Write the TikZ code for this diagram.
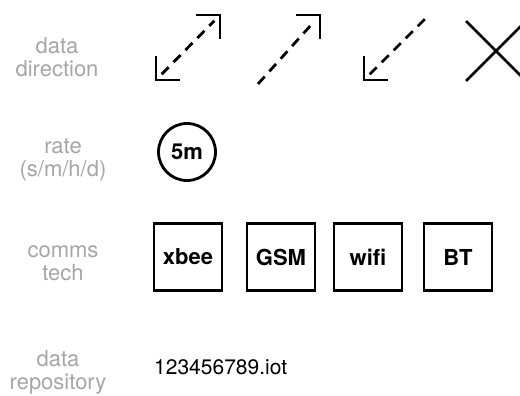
\documentclass[tikz,border=0pt]{standalone}
\usepackage{fontspec}
\setmainfont{TeX Gyre Heros}
\begin{document}
\begin{tikzpicture}[x=1pt, y=-1pt, font=\fontsize{22}{23}\selectfont,
	lbl/.style={text=black!35, align=center},
	dashln/.style={line width=2.8pt, dash pattern=on 10pt off 7pt, shorten <=8pt, shorten >=8pt},
	head/.style={line width=2.8pt, line join=miter},
	tech/.style={draw, line width=2.6pt, minimum width=68pt, minimum height=67pt, font=\fontsize{22}{23}\selectfont\bfseries}]
	\clip (0,0) rectangle (520,396);
	%labels
	\node[lbl] (dirlbl) at (57,57) {data\\direction};
	\node[lbl] (ratelbl) at (63,160) {rate\\(s/m/h/d)};
	\node[lbl] (techlbl) at (63,263) {comms\\tech};
	\node[lbl] (repolbl) at (58,372) {data\\repository};
	%data direction
	\coordinate (both ll) at (156,80);
	\coordinate (both ur) at (220,15);
	\draw[dashln] (both ll) -- (both ur);
	\draw[head] (both ll) ++(0,-24) -- (both ll) -- ++(24,0);
	\draw[head] (both ur) ++(-24,0) -- (both ur) -- ++(0,24);
	\coordinate (out ll) at (258,84);
	\coordinate (out ur) at (320,15);
	\draw[dashln, shorten <=0pt] (out ll) -- (out ur);
	\draw[head] (out ur) ++(-24,0) -- (out ur) -- ++(0,24);
	\coordinate (in ll) at (364,80);
	\coordinate (in ur) at (426,18);
	\draw[dashln, shorten >=0pt] (in ll) -- (in ur);
	\draw[head] (in ll) ++(0,-24) -- (in ll) -- ++(24,0);
	\coordinate (none a) at (466,21);
	\coordinate (none b) at (526,81);
	\coordinate (none c) at (466,81);
	\coordinate (none d) at (526,21);
	\draw[line width=2.8pt] (none a) -- (none b);
	\draw[line width=2.8pt] (none c) -- (none d);
	%rate
	\node[draw, circle, line width=2.8pt, minimum size=57pt, font=\fontsize{22}{23}\selectfont\bfseries] (rate) at (187,152) {5m};
	%comms tech
	\foreach \name/\x/\txt in {xbee/188/xbee, gsm/281/GSM, wifi/368/wifi, bt/458/BT}
	\node[tech] (\name) at (\x,257) {\txt};
	%repository
	\node[anchor=west, inner sep=0pt, font=\fontsize{21}{23}\selectfont] (repo) at (154,367) {123456789.iot};
\end{tikzpicture}
\end{document}
